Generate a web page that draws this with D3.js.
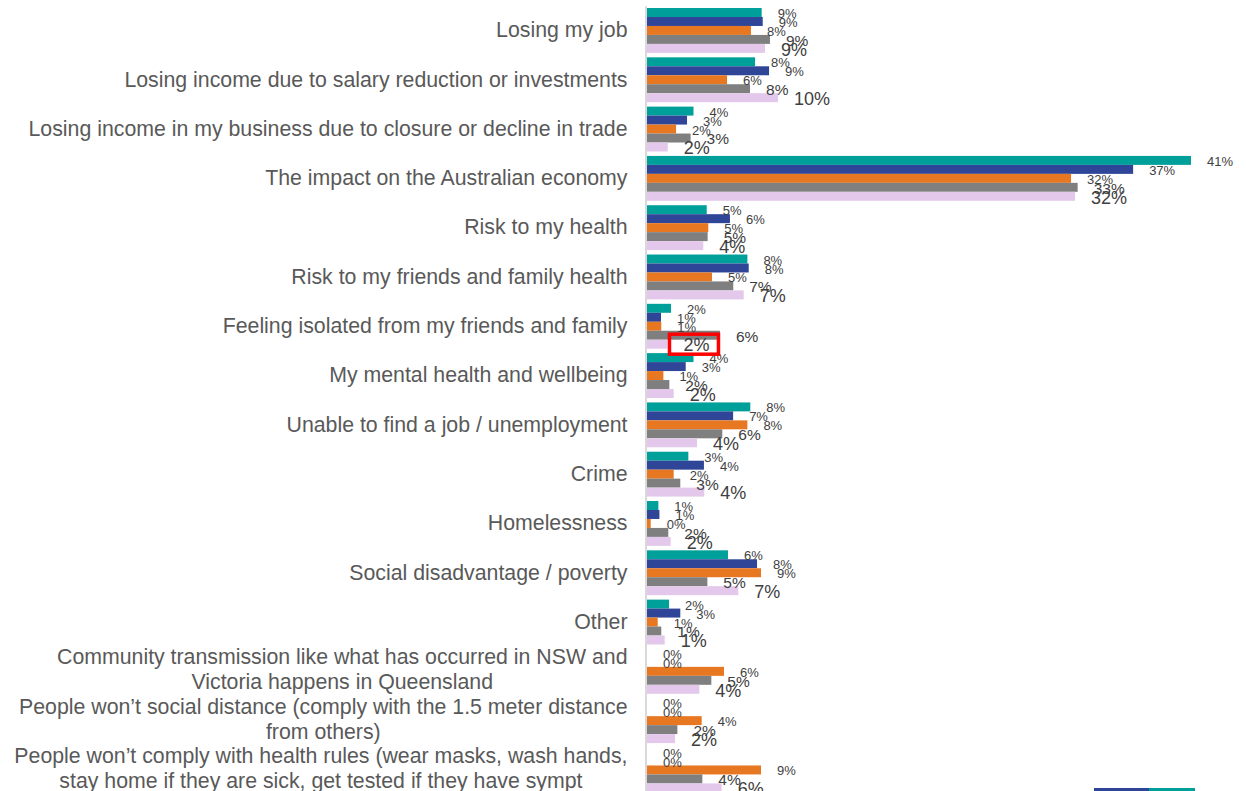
<!DOCTYPE html>
<html>
<head>
<meta charset="utf-8">
<script src="https://cdn.jsdelivr.net/npm/d3@7"></script>
<style>
  html, body { margin: 0; padding: 0; background: #fff; }
  svg { display: block; font-family: "Liberation Sans", Arial, sans-serif; }
</style>
</head>
<body>
<svg id="chart" width="1246" height="791"></svg>
<script>
// ---- Data ----
const categories = [
  "Losing my job",
  "Losing income due to salary reduction or investments",
  "Losing income in my business due to closure or decline in trade",
  "The impact on the Australian economy",
  "Risk to my health",
  "Risk to my friends and family health",
  "Feeling isolated from my friends and family",
  "My mental health and wellbeing",
  "Unable to find a job / unemployment",
  "Crime",
  "Homelessness",
  "Social disadvantage / poverty",
  "Other",
  "Community transmission like what has occurred in NSW and\nVictoria happens in Queensland",
  "People won\u2019t social distance (comply with the 1.5 meter distance\nfrom others)",
  "People won\u2019t comply with health rules (wear masks, wash hands,\nstay home if they are sick, get tested if they have sympt"
];
const seriesNames = ["Series 1", "Series 2", "Series 3", "Series 4", "Series 5"];
const series1 = [8.68, 8.18, 3.52, 41.18, 4.52, 7.60, 1.82, 3.52, 7.82, 3.13, 0.86, 6.13, 1.67, 0, 0, 0];
const series2 = [8.76, 9.24, 3.03, 36.80, 6.28, 7.70, 1.06, 2.93, 6.52, 4.31, 0.94, 8.33, 2.52, 0, 0, 0];
const series3 = [7.87, 6.06, 2.20, 32.10, 4.64, 4.92, 1.08, 1.24, 7.60, 2.02, 0.28, 8.63, 0.81, 5.83, 4.14, 8.63];
const series4 = [9.31, 7.80, 3.30, 32.60, 4.59, 6.53, 5.52, 1.69, 5.70, 2.52, 1.61, 4.57, 1.08, 4.87, 2.30, 4.19];
const series5 = [8.93, 9.92, 1.57, 32.40, 4.26, 7.32, 1.55, 2.02, 3.79, 4.34, 1.79, 6.91, 1.34, 3.96, 2.12, 5.65];
const seriesValues = [series1, series2, series3, series4, series5];
const highlightCategory = "Feeling isolated from my friends and family";
const highlightSeries = "Series 5";

// ---- Styles ----
const colors = ["#00A09A", "#2F4597", "#E87722", "#7F7F7F", "#E3C8EB"];
const labelSizes = [13, 13, 13, 15.5, 18];

const svg = d3.select("#chart");
const axisX = 645.5;

const x = d3.scaleLinear().domain([0, 45]).range([647, 647 + 45 * 13.21]);
const y = d3.scaleBand().domain(categories).range([5.8, 794.6])
  .paddingInner(0.09).paddingOuter(0.045);
const ys = d3.scaleBand().domain(seriesNames).range([0, y.bandwidth()]);

const rows = categories.map((c, i) => ({
  cat: c,
  vals: seriesNames.map((s, j) => ({ s, j, v: seriesValues[j][i], cat: c }))
}));

// axis
const yAxis = d3.axisLeft(y).tickSize(0).tickPadding(18);
const gAxis = svg.append("g").attr("transform", `translate(${axisX},0)`).call(yAxis);
gAxis.select(".domain").attr("stroke", "#D9D9D9").attr("stroke-width", 2);
gAxis.selectAll(".tick text").each(function(d) {
  const t = d3.select(this);
  const lines = d.split("\n");
  t.text(null).attr("font-size", "21.3px").attr("fill", "#595959")
    .attr("font-family", "'Liberation Sans', Arial, sans-serif");
  if (lines.length === 1) {
    t.text(d);
  } else {
    const lh = 25;
    t.attr("dy", null);
    const spans = lines.map((ln, k) =>
      t.append("tspan").attr("x", -18).attr("y", (k - (lines.length - 1) / 2) * lh - 2)
        .attr("dy", "0.35em").text(ln));
    const maxW = d3.max(spans, sp => sp.node().getComputedTextLength());
    spans.forEach(sp => sp.attr("text-anchor", "middle").attr("x", -18 - maxW / 2));
  }
});

// bars
const groups = svg.append("g").selectAll("g").data(rows).join("g")
  .attr("transform", d => `translate(0,${y(d.cat)})`);
groups.selectAll("rect").data(d => d.vals).join("rect")
  .attr("x", x(0))
  .attr("y", d => ys(d.s))
  .attr("width", d => Math.max(0, x(d.v) - x(0)))
  .attr("height", ys.bandwidth())
  .attr("fill", d => colors[d.j]);

// data labels
const fmt = d3.format(".0f");
groups.selectAll("text.lbl").data(d => d.vals).join("text")
  .attr("class", "lbl")
  .attr("x", d => x(d.v) + 16)
  .attr("y", d => ys(d.s) + ys.bandwidth() / 2 + 1)
  .attr("dy", "0.35em")
  .attr("font-size", d => labelSizes[d.j] + "px")
  .attr("fill", "#404040")
  .text(d => fmt(d.v) + "%");

// highlight box around a label
const hi = seriesNames.indexOf(highlightSeries);
const hv = seriesValues[hi][categories.indexOf(highlightCategory)];
const hy = y(highlightCategory) + ys(highlightSeries) + ys.bandwidth() / 2;
svg.append("rect")
  .attr("x", x(hv) + 2)
  .attr("y", hy - 10)
  .attr("width", 49)
  .attr("height", 20)
  .attr("fill", "none")
  .attr("stroke", "#FF0000")
  .attr("stroke-width", 3.5);

// legend (cut off at the bottom of the view)
const legendW = [55, 46];
const legend = svg.append("g").attr("transform", "translate(1094,788)");
let lx = 0;
[1, 0].forEach((si, k) => {
  legend.append("rect").attr("x", lx).attr("y", 0).attr("width", legendW[k]).attr("height", 10)
    .attr("fill", colors[si]);
  lx += legendW[k];
});
</script>
</body>
</html>
